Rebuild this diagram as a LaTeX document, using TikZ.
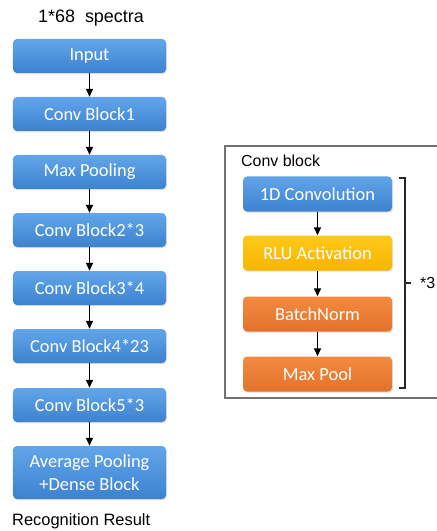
\documentclass[tikz,border=0pt]{standalone}
\usepackage{fontspec}
\setmainfont{Liberation Sans}
\newfontfamily\boxfont{Carlito}
\usetikzlibrary{shadows,arrows.meta}
\definecolor{bluetop}{HTML}{62A5EA}
\definecolor{bluebot}{HTML}{3D82D0}
\definecolor{yeltop}{HTML}{FFC91A}
\definecolor{yelbot}{HTML}{F7B500}
\definecolor{orgtop}{HTML}{F28B40}
\definecolor{orgbot}{HTML}{E4722B}
\tikzset{
  blk/.style={rounded corners=4bp, minimum width=153bp, minimum height=34bp,
    inner sep=0pt, text=white, font=\boxfont\fontsize{18.5}{21}\selectfont,
    align=center, drop shadow={opacity=0.25, shadow xshift=0.8bp, shadow yshift=-1.2bp}},
  bluebox/.style={blk, top color=bluetop, bottom color=bluebot},
  yelbox/.style={blk, top color=yeltop, bottom color=yelbot},
  orgbox/.style={blk, top color=orgtop, bottom color=orgbot},
  inner/.style={minimum width=149bp, minimum height=35bp},
  arr/.style={-{Triangle[length=8bp,width=7bp]}, line width=1.5bp, black},
  lbl/.style={inner sep=0pt, text=black},
}
\begin{document}
\begin{tikzpicture}[x=1bp,y=-1bp]
\clip (0,0) rectangle (437,531);
\fill[white] (0,0) rectangle (437,531);
% left column
\node[lbl, font=\fontsize{18}{21}\selectfont] (title) at (91,18) {1*68\ \ spectra};
\node[bluebox] (in) at (89.5,56) {Input};
\node[bluebox] (cb1) at (89.5,114) {Conv Block1};
\node[bluebox] (mp) at (89.5,172) {Max Pooling};
\node[bluebox] (cb2) at (89.5,230) {Conv Block2*3};
\node[bluebox] (cb3) at (89.5,288) {Conv Block3*4};
\node[bluebox] (cb4) at (89.5,346) {Conv Block4*23};
\node[bluebox] (cb5) at (89.5,405) {Conv Block5*3};
\node[bluebox, minimum height=53bp, font=\boxfont\fontsize{18.5}{23}\selectfont] (avg) at (89.5,472.5) {Average Pooling\\+Dense Block};
\node[lbl, font=\fontsize{16.5}{19}\selectfont, anchor=west] (res) at (12,521) {Recognition Result};
\draw[arr] (in) -- (cb1);
\draw[arr] (cb1) -- (mp);
\draw[arr] (mp) -- (cb2);
\draw[arr] (cb2) -- (cb3);
\draw[arr] (cb3) -- (cb4);
\draw[arr] (cb4) -- (cb5);
\draw[arr] (cb5) -- (avg);
% conv block detail
\draw[line width=1.3bp, black!55] (460,146) -- (225,146) -- (225,398) -- (460,398);
\node[lbl, font=\fontsize{16}{19}\selectfont, anchor=west] (cbt) at (241,161) {Conv block};
\node[bluebox, inner] (conv) at (317.5,194) {1D Convolution};
\node[yelbox, inner] (relu) at (317.5,253) {RLU Activation};
\node[orgbox, inner] (bn) at (317.5,314) {BatchNorm};
\node[orgbox, inner] (pool) at (317.5,374) {Max Pool};
\draw[arr] (conv) -- (relu);
\draw[arr] (relu) -- (bn);
\draw[arr] (bn) -- (pool);
% bracket
\coordinate (bt) at (405,178);
\coordinate (bb) at (405,388);
\coordinate (bm) at (405,283);
\draw[line width=1.2bp, black!85] ([xshift=-6bp]bt) -- (bt) -- (bb) -- ([xshift=-6bp]bb);
\draw[line width=1.2bp, black!85] (bm) -- ([xshift=6bp]bm);
\node[lbl, font=\fontsize{16}{19}\selectfont, anchor=east] (rep) at (435.5,283) {*3};
\end{tikzpicture}
\end{document}
